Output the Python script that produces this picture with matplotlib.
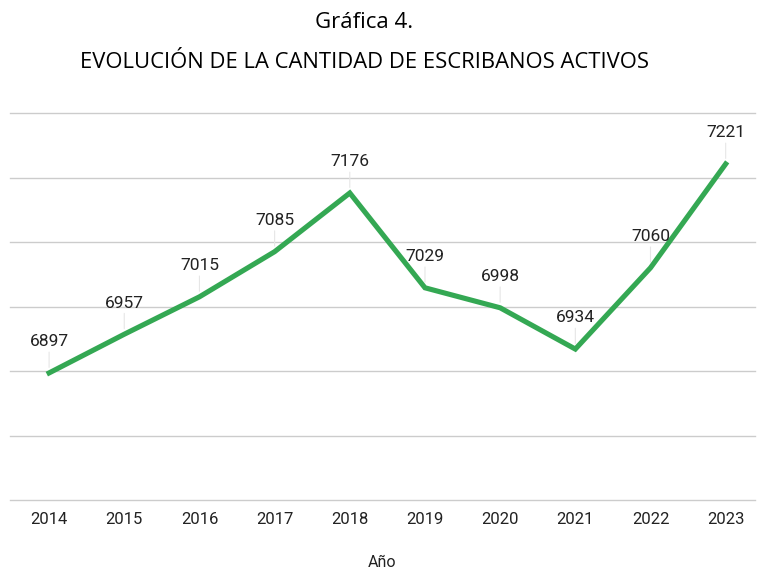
import matplotlib.pyplot as plt

years = [2014, 2015, 2016, 2017, 2018, 2019, 2020, 2021, 2022, 2023]
escribanos = [6897, 6957, 7015, 7085, 7176, 7029, 6998, 6934, 7060, 7221]
grid_levels = [6700, 6800, 6900, 7000, 7100, 7200, 7300]

fig = plt.figure(figsize=(7.6, 5.69), dpi=100)
ax = fig.add_axes([10/760, 1 - 500/569, 745/760, 387/569])

ax.plot(years, escribanos, color='#34a853', lw=3.7, solid_joinstyle='miter', zorder=3)
# value labels with a faint leader line, like the sheets export
for x, y in zip(years, escribanos):
    ax.annotate(str(y), (x, y), xytext=(0, 17), textcoords='offset points',
                ha='center', va='bottom', fontsize=12.5, family='Roboto', color='#222222',
                arrowprops=dict(arrowstyle='-', color='#e6e6e6', lw=0.8, shrinkA=0, shrinkB=4))

ax.set_xlim(2013.48, 2023.39)
ax.set_ylim(6700, 7300)
for g in grid_levels:
    ax.axhline(g, color='#cccccc', lw=1, clip_on=False, zorder=1)
ax.set_yticks([])
ax.set_xticks(years)
ax.set_xticklabels([str(y) for y in years], family='Roboto', fontsize=12, color='#222222')
ax.tick_params(axis='x', length=0, pad=9)
for s in ax.spines.values():
    s.set_visible(False)
ax.set_xlabel('Año', family='Roboto', fontsize=11.5, color='#222222', labelpad=20)

fig.text(364/760, 1 - 22/569, 'Gráfica 4.', ha='center', va='center', fontsize=16, family='Open Sans')
fig.text(364/760, 1 - 62/569, 'EVOLUCIÓN DE LA CANTIDAD DE ESCRIBANOS ACTIVOS', ha='center', va='center',
         fontsize=15.8, family='Open Sans')

plt.savefig('out.png', dpi=100)
